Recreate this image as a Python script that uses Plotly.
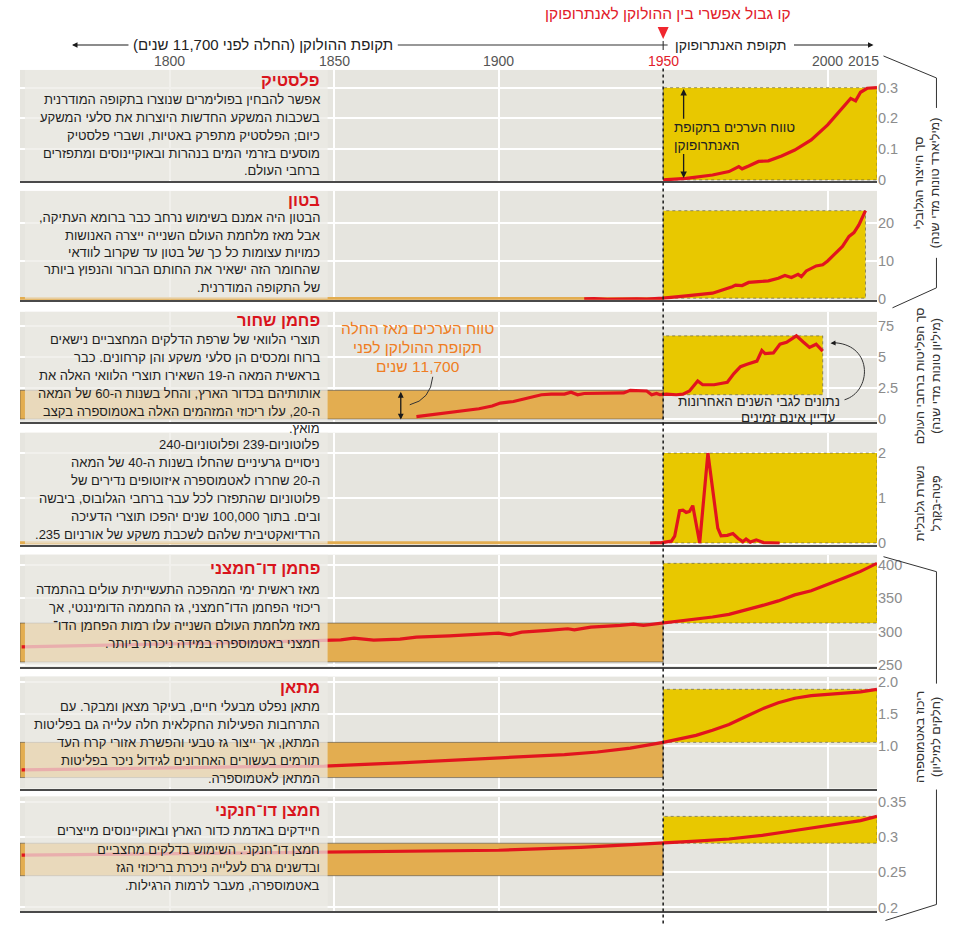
import plotly.graph_objects as go

# ---------------- data ----------------
plastic_years = [1950, 1957, 1965, 1970, 1973, 1974, 1976, 1979, 1982, 1986, 1990, 1995, 2000, 2005, 2007, 2008.5, 2010, 2012, 2015]
plastic_values = [0.0, 0.005, 0.016, 0.027, 0.043, 0.036, 0.045, 0.06, 0.062, 0.078, 0.097, 0.13, 0.179, 0.238, 0.265, 0.257, 0.285, 0.298, 0.30]

concrete_years = [1926, 1929, 1933, 1936, 1939, 1942, 1945, 1948, 1950, 1957, 1965, 1971, 1972, 1974, 1976, 1979, 1982,
                  1985, 1987, 1989, 1991, 1992, 1993.5, 1996.5, 1998.5, 2000, 2001.5, 2004.5, 2006.5, 2008, 2009.5, 2011.5]
concrete_values = [0.1, 0.2, 0.0, 0.1, 0.2, 0.15, 0.05, 0.1, 0.3, 0.9, 1.6, 3.3, 3.7, 3.6, 4.4, 4.6, 4.8,
                   5.5, 6.2, 5.7, 6.5, 5.9, 7.4, 8.7, 9.0, 10.0, 11.2, 13.8, 16.4, 17.4, 19.4, 23.1]

bc_years = [1875, 1880, 1885, 1890, 1894, 1898, 1900.5, 1904.5, 1908.5, 1913, 1916, 1920, 1922, 1924, 1926, 1930, 1934,
            1938, 1940, 1943, 1945, 1946.5, 1948, 1949, 1951, 1954, 1956, 1958, 1960.5, 1962, 1965.5, 1967.5, 1969.5,
            1971.5, 1973.5, 1975.5, 1978.5, 1980, 1981, 1983.5, 1985.5, 1987.5, 1990.5, 1992.5, 1994.5, 1996.5, 1998.5]
bc_values = [0.2, 0.35, 0.5, 0.65, 0.83, 1.05, 1.28, 1.41, 1.68, 1.95, 2.0, 2.0, 2.15, 1.95, 2.05, 2.07, 2.07,
             2.1, 2.3, 2.3, 2.25, 1.95, 2.05, 1.95, 2.0, 1.95, 2.0, 2.25, 3.05, 2.75, 2.75, 2.85, 2.95,
             3.65, 4.2, 4.4, 4.65, 5.5, 5.25, 5.3, 6.0, 6.15, 6.67, 6.2, 5.75, 6.0, 5.45]

pu_years = [1946, 1949.5, 1952.5, 1953.5, 1955, 1956, 1957, 1958, 1959, 1961.1, 1963.6, 1966.6, 1967.6, 1969.5,
            1971.2, 1972.8, 1974.2, 1975.2, 1976.5, 1978.3, 1980.5, 1985.4]
pu_values = [0.0, 0.01, 0.04, 0.15, 0.72, 0.73, 0.68, 0.70, 0.83, 0.0, 2.0, 0.33, 0.16, 0.17,
             0.21, 0.10, 0.03, 0.09, 0.02, 0.07, 0.01, 0.0]

co2_years = [1755, 1775, 1800, 1825, 1847, 1852, 1856, 1862, 1870, 1875, 1885, 1894, 1900, 1903.5, 1907, 1915, 1921,
             1923, 1928, 1937, 1941, 1944, 1950, 1955, 1960, 1965, 1970, 1975, 1980, 1985, 1990, 1995, 2000, 2005, 2010, 2015]
co2_values = [277.5, 279, 282, 284, 287, 288, 290.5, 287.5, 289, 292, 294, 297, 298, 295.5, 299.5, 302, 304.5,
              303, 307, 309.5, 311.5, 309.5, 313, 315, 318, 322, 326, 332, 339, 346, 355, 361, 370, 380, 390, 402]

ch4_years = [1755, 1780, 1800, 1825, 1847, 1870, 1895, 1910, 1920, 1930, 1940, 1950, 1955, 1960, 1965, 1970, 1975,
             1980, 1985, 1990, 1995, 2000, 2005, 2010, 2015]
ch4_values = [0.62, 0.63, 0.65, 0.67, 0.68, 0.73, 0.79, 0.83, 0.86, 0.90, 0.96, 1.05, 1.10, 1.16, 1.24, 1.33, 1.45,
              1.57, 1.67, 1.74, 1.78, 1.80, 1.82, 1.84, 1.88]

n2o_years = [1755, 1800, 1847, 1875, 1900, 1925, 1950, 1960, 1970, 1980, 1990, 2000, 2010, 2015]
n2o_values = [0.274, 0.276, 0.278, 0.279, 0.281, 0.285, 0.291, 0.294, 0.297, 0.302, 0.309, 0.316, 0.323, 0.329]

# pre-industrial floor of the Holocene range (None = no Holocene band)
holo_floor = [None, 0.0, 0.0, 0.0, 255, 0.5, 0.245]
anth_end = [2015, 2011.5, 1998.5, 2015, 2015, 2015, 2015]

titles = ["פלסטיק", "בטון", "פחמן שחור", None, "פחמן דו־חמצני", "מתאן", "חמצן דו־חנקני"]
texts = [
    ["אפשר להבחין בפולימרים שנוצרו בתקופה המודרנית",
     "בשכבות המשקע החדשות היוצרות את סלעי המשקע",
     "כיום; הפלסטיק מתפרק באטיות, ושברי פלסטיק",
     "מוסעים בזרמי המים בנהרות ובאוקיינוסים ומתפזרים",
     "ברחבי העולם."],
    ["הבטון היה אמנם בשימוש נרחב כבר ברומא העתיקה,",
     "אבל מאז מלחמת העולם השנייה ייצרה האנושות",
     "כמויות עצומות כל כך של בטון עד שקרוב לוודאי",
     "שהחומר הזה ישאיר את החותם הברור והנפוץ ביותר",
     "של התקופה המודרנית."],
    ["תוצרי הלוואי של שרפת הדלקים המחצביים נישאים",
     "ברוח ומכסים הן סלעי משקע והן קרחונים. כבר",
     "בראשית המאה ה-19 השאירו תוצרי הלוואי האלה את",
     "אותותיהם בכדור הארץ, והחל בשנות ה-60 של המאה",
     "ה-20, עלו ריכוזי המזהמים האלה באטמוספרה בקצב",
     "מואץ."],
    ["פלוטוניום-239 ופלוטוניום-240",
     "ניסויים גרעיניים שהחלו בשנות ה-40 של המאה",
     "ה-20 שחררו לאטמוספרה איזוטופים נדירים של",
     "פלוטוניום שהתפזרו לכל עבר ברחבי הגלובוס, ביבשה",
     "ובים. בתוך 100,000 שנים יהפכו תוצרי הדעיכה",
     "הרדיואקטיבית שלהם לשכבת משקע של אורניום 235."],
    ["מאז ראשית ימי המהפכה התעשייתית עולים בהתמדה",
     "ריכוזי הפחמן הדו־חמצני, גז החממה הדומיננטי, אך",
     "מאז מלחמת העולם השנייה עלו רמות הפחמן הדו־",
     "חמצני באטמוספרה במידה ניכרת ביותר."],
    ["מתאן נפלט מבעלי חיים, בעיקר מצאן ומבקר. עם",
     "התרחבות הפעילות החקלאית חלה עלייה גם בפליטות",
     "המתאן, אך ייצור גז טבעי והפשרת אזורי קרח העד",
     "תורמים בעשורים האחרונים לגידול ניכר בפליטות",
     "המתאן לאטמוספרה."],
    ["חיידקים באדמת כדור הארץ ובאוקיינוסים מייצרים",
     "חמצן דו־חנקני. השימוש בדלקים מחצביים",
     "ובדשנים גרם לעלייה ניכרת בריכוזי הגז",
     "באטמוספרה, מעבר לרמות הרגילות."],
]

tick_vals = [[0, 0.1, 0.2, 0.3], [0, 10, 20], [0, 2.5, 5, 7.5], [0, 1, 2],
             [250, 300, 350, 400], [1.0, 1.5, 2.0], [0.2, 0.25, 0.3, 0.35]]
tick_text = [["0", "0.1", "0.2", "0.3"], ["0", "10", "20"], ["0", "2.5", "5", "75"], ["0", "1", "2"],
             ["250", "300", "350", "400"], ["1.0", "1.5", "2.0"], ["0.2", "0.25", "0.3", "0.35"]]
year_ticks = [1800, 1850, 1900, 1950, 2000, 2015]

series_years = [plastic_years, concrete_years, bc_years, pu_years, co2_years, ch4_years, n2o_years]
series_vals = [plastic_values, concrete_values, bc_values, pu_values, co2_values, ch4_values, n2o_values]

# ---------------- layout geometry ----------------
W, H = 960, 951
X0PX, X1PX = 20.0, 877.5
YEAR0, YEAR1 = 1754.5, 2015.0
BOUNDARY = 1950
# vertical calibration (target pixel -> layout pixel)
Y_OFF, Y_SCALE = 3.0, 0.989

# panel pixel top/bottom and two reference (value, pixel) pairs for scaling
geom = [
    (70, 181, (0, 180.0), (0.3, 87.7)),
    (191, 300, (0, 299.5), (20, 222.7)),
    (312, 422, (0, 419.3), (7.5, 325.7)),
    (433, 545, (0, 543.3), (2, 453.3)),
    (555, 667, (250, 665.7), (400, 565.0)),
    (677, 789, (1.0, 746.0), (2.0, 682.0)),
    (797, 912, (0.2, 908.0), (0.35, 802.0)),
]
text_y = [
    (80, [100, 117.7, 135.4, 153.1, 170.8]),
    (200, [218, 235.3, 252.6, 269.9, 287.2]),
    (320, [340, 358, 376, 394, 412, 429]),
    (None, [445, 463, 481, 499, 517, 535]),
    (568, [590, 608, 626, 644]),
    (687, [707, 725, 743, 761, 779]),
    (810, [831, 849.5, 868, 886.5]),
]

FONT = "Liberation Sans Narrow, Arial Narrow, Liberation Sans, DejaVu Sans Condensed, sans-serif"
RED = "#e2141e"
YELLOW = "#e8c800"
ORANGE = "#e3ad50"
BG = "#e6e5df"
RLM = "\u200f"
BODY = 13
TITLE = 16.5

try:
    go.layout.Shape(layer="between")
    RECT_LAYER = "between"
except Exception:
    RECT_LAYER = "below"


def xp(px):
    return (px - X0PX) / (X1PX - X0PX)


def yp(py):
    return 1 - ((py - Y_OFF) / Y_SCALE) / H


def heb(s):
    return RLM + s + RLM


fig = go.Figure()
shapes = []
annotations = []
layout_axes = {}

for i in range(7):
    k = i + 1
    xa = "x" if k == 1 else f"x{k}"
    ya = "y" if k == 1 else f"y{k}"
    top, bot, (v1, p1), (v2, p2) = geom[i]
    ppu = (p1 - p2) / (v2 - v1)
    ymin = v1 - (bot - p1) / ppu
    ymax = v2 + (p2 - top) / ppu
    years = series_years[i]
    vals = series_vals[i]

    fig.add_trace(go.Scatter(x=years, y=vals, mode="lines", xaxis=xa, yaxis=ya,
                             line=dict(color=RED, width=3.2), hoverinfo="skip", showlegend=False))

    layout_axes["xaxis" if k == 1 else f"xaxis{k}"] = dict(
        domain=[0, 1], range=[YEAR0, YEAR1], anchor=ya, showgrid=True, gridcolor="white", gridwidth=1.5,
        tickvals=[1800, 1850, 1900, 2000], showticklabels=False, ticks="", showline=True,
        linecolor="#4a4a4a", linewidth=1.6, zeroline=False, fixedrange=True)
    layout_axes["yaxis" if k == 1 else f"yaxis{k}"] = dict(
        domain=[yp(bot), yp(top)], range=[ymin, ymax], anchor=xa, side="right",
        tickvals=tick_vals[i], ticktext=tick_text[i], ticks="", showgrid=True, gridcolor="white",
        gridwidth=1.5, zeroline=False, showline=False, fixedrange=True,
        tickfont=dict(family=FONT, size=14.5, color="#8c8c8c"))

    # Anthropocene range (yellow)
    anth = [v for y, v in zip(years, vals) if y >= BOUNDARY]
    shapes.append(dict(type="rect", xref=xa, yref=ya, x0=BOUNDARY, x1=anth_end[i], y0=min(anth), y1=max(anth),
                       fillcolor=YELLOW, line=dict(color="rgba(70,70,70,0.55)", width=1, dash="dot"),
                       layer=RECT_LAYER))
    # Holocene range (orange)
    if holo_floor[i] is not None:
        holo = [v for y, v in zip(years, vals) if y <= BOUNDARY]
        hi = max(holo) if holo else holo_floor[i]
        thin = (hi - holo_floor[i]) * ppu < 4
        shapes.append(dict(type="rect", xref=xa, yref=ya, x0=YEAR0, x1=BOUNDARY, y0=holo_floor[i], y1=hi,
                           fillcolor=ORANGE,
                           line=dict(color=ORANGE if thin else "rgba(70,70,70,0.55)", width=2.5 if thin else 1),
                           layer=RECT_LAYER))

    # text box (semi-transparent)
    shapes.append(dict(type="rect", xref=xa, yref="paper", x0=1756, x1=1848, y0=yp(bot - 1), y1=yp(top),
                       fillcolor="#ebeae5", opacity=0.72, line=dict(width=0), layer="above"))

    ty, lines_y = text_y[i]
    if titles[i]:
        annotations.append(dict(xref="paper", yref="paper", x=xp(322), y=yp(ty), xanchor="right",
                                yanchor="middle", showarrow=False, text="<b>" + heb(titles[i]) + "</b>",
                                font=dict(family=FONT, size=TITLE, color="#d9141c")))
    for line, ly in zip(texts[i], lines_y):
        annotations.append(dict(xref="paper", yref="paper", x=xp(322), y=yp(ly), xanchor="right",
                                yanchor="middle", showarrow=False, text=heb(line),
                                font=dict(family=FONT, size=BODY, color="#1e1e1e")))

# dotted boundary line
shapes.append(dict(type="line", xref="x", yref="paper", x0=BOUNDARY, x1=BOUNDARY, y0=yp(924), y1=yp(66),
                   line=dict(color="#1a1a1a", width=1.5, dash="dot"), layer="above"))


def pline(x0, y0, x1, y1, color="#333", width=1):
    shapes.append(dict(type="line", xref="paper", yref="paper", x0=xp(x0), y0=yp(y0), x1=xp(x1), y1=yp(y1),
                       line=dict(color=color, width=width)))


def ppath(points, cmd, color="#333", width=1):
    parts = []
    for c, pts in zip(cmd, points):
        parts.append(c + " " + " ".join(f"{xp(a):.5f},{yp(b):.5f}" for a, b in pts))
    shapes.append(dict(type="path", xref="paper", yref="paper", path=" ".join(parts),
                       line=dict(color=color, width=width)))


def arrow(xh, yh, xt, yt, color="#1a1a1a", width=1.2, both=False, size=1.0):
    annotations.append(dict(xref="paper", yref="paper", x=xp(xh), y=yp(yh), ax=xt - xh,
                            ay=(yt - yh) / Y_SCALE, axref="pixel", ayref="pixel", text="", showarrow=True,
                            arrowhead=2, arrowsize=size, arrowwidth=width, arrowcolor=color,
                            arrowside="end+start" if both else "end", startarrowhead=2, startarrowsize=size))


def label(x, y, text, size=15, color="#222", xanchor="center", angle=0, bold=False):
    t = heb(text) if any("\u0590" <= ch <= "\u05ff" for ch in text) else text
    if bold:
        t = "<b>" + t + "</b>"
    annotations.append(dict(xref="paper", yref="paper", x=xp(x), y=yp(y), xanchor=xanchor, yanchor="middle",
                            showarrow=False, text=t, textangle=angle,
                            font=dict(family=FONT, size=size, color=color)))


# ---------------- header ----------------
bx = X0PX + (BOUNDARY - YEAR0) * (X1PX - X0PX) / (YEAR1 - YEAR0)
label(bx + 5, 14, "קו גבול אפשרי בין ההולוקן לאנתרופוקן", size=15.5, color="#e2202a")
shapes.append(dict(type="path", xref="paper", yref="paper",
                   path=f"M {xp(bx-5.5)},{yp(27)} L {xp(bx+5.5)},{yp(27)} L {xp(bx)},{yp(39)} Z",
                   fillcolor="#f0262e", line=dict(width=0)))
arrow(72, 45, 130, 45, width=1.1)
label(263, 45, "תקופת ההולוקן (החלה לפני 11,700 שנים)", size=15)
pline(398, 45, 668, 45, color="#333", width=1.1)
pline(bx, 41, bx, 50, color="#333", width=1.1)
label(731, 45, "תקופת האנתרופוקן", size=14)
arrow(874, 45, 793, 45, width=1.1)
for yr in year_ticks:
    px = X0PX + (yr - YEAR0) * (X1PX - X0PX) / (YEAR1 - YEAR0)
    annotations.append(dict(xref="paper", yref="paper", x=xp(px + 4 if yr == 2015 else px), y=yp(61),
                            xanchor="right" if yr == 2015 else "center", yanchor="middle", showarrow=False,
                            text=str(yr), font=dict(family=FONT, size=14,
                                                    color="#e2202a" if yr == BOUNDARY else "#555")))

# ---------------- in-panel annotations ----------------
# plastic: Anthropocene range note
arrow(684, 89, 684, 120, width=1.3)
arrow(684, 178, 684, 153, width=1.3)
label(672, 127.5, "טווח הערכים בתקופת", size=13.5, color="#222", xanchor="left")
label(672, 145.5, "האנתרופוקן", size=13.5, color="#222", xanchor="left")

# black carbon: Holocene range note
for ly, t in zip([329, 348, 367], ["טווח הערכים מאז החלה", "תקופת ההולוקן לפני", "11,700 שנים"]):
    label(418, ly, t, size=15.5, color="#ef7d22")
ppath([[(433, 377)], [(431, 400), (410, 405)]], ["M", "Q"], color="#333", width=1)
arrow(401, 392, 401, 421, width=1.3, both=True, size=0.9)
# black carbon: data note
label(842, 402, "נתונים לגבי השנים האחרונות", size=13.5, color="#222", xanchor="right")
label(837, 418, "עדיין אינם זמינים", size=13.5, color="#222", xanchor="right")
ppath([[(845, 400)], [(872, 392), (874, 346), (836, 343)]], ["M", "C"], color="#333", width=1)
arrow(831, 343.5, 838, 343, width=1, size=1.0)

# ---------------- right side axis titles ----------------
pline(884, 56, 937, 78)
pline(937, 78, 937, 108)
pline(937, 258, 937, 288)
pline(937, 288, 893, 308)
label(927, 183, "סך הייצור הגלובלי<br>(מיליארד טונות מדי שנה)", size=12.5, color="#333", angle=-90)
label(928, 376, "סך הפליטות ברחבי העולם<br>(מיליון טונות מדי שנה)", size=12.5, color="#333", angle=-90)
label(928, 503, "נשורת גלובלית<br>פֶּטָה-בֶּקֶרֶל", size=12.5, color="#333", angle=-90)
pline(884, 557, 937, 572)
pline(937, 572, 937, 684)
pline(937, 790, 937, 905)
pline(937, 905, 886, 921)
label(928, 737, "ריכוז באטמוספרה<br>(חלקים למיליון)", size=12.5, color="#333", angle=-90)

fig.update_layout(
    width=W, height=H, margin=dict(l=X0PX, r=W - X1PX, t=0, b=0),
    paper_bgcolor="white", plot_bgcolor=BG, showlegend=False,
    font=dict(family=FONT), shapes=shapes, annotations=annotations, **layout_axes)

fig.write_html(
    "out.html",
    config={"displayModeBar": False},
    post_script=("document.documentElement.style.margin='0';document.body.style.margin='0';"
                 "document.body.style.padding='0';document.documentElement.style.overflow='hidden';"
                 "document.body.style.overflow='hidden';"),
)
